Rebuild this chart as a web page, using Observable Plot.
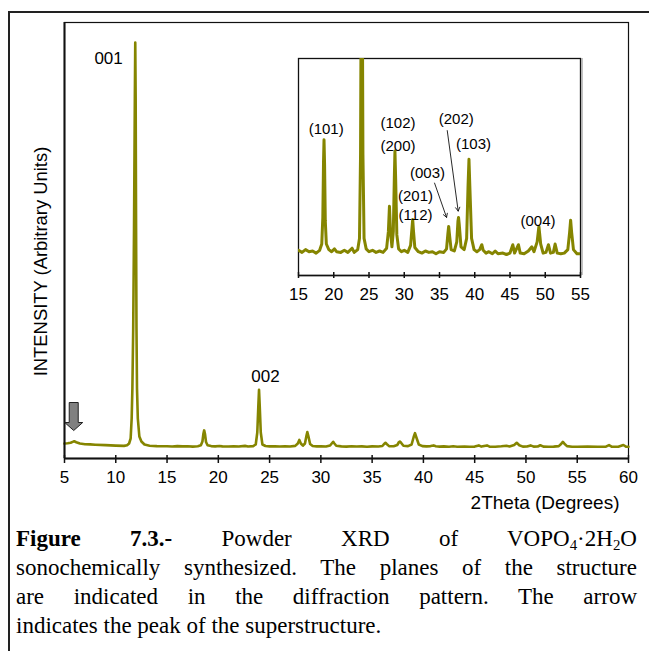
<!DOCTYPE html>
<html><head><meta charset="utf-8">
<script src="https://cdn.jsdelivr.net/npm/d3@7"></script>
<script src="https://cdn.jsdelivr.net/npm/@observablehq/plot@0.6"></script>
<style>
html,body{margin:0;padding:0;background:#fff;width:649px;height:651px;overflow:hidden;}
#outer{position:absolute;left:8px;top:11px;width:800px;height:800px;border-top:2px solid #222;border-left:2px solid #222;}
#main{position:absolute;left:0;top:0;}
#inset{position:absolute;left:278px;top:48px;}
#caption{position:absolute;left:16px;top:524px;width:621px;font-family:"Liberation Serif","Times New Roman",serif;font-size:23px;line-height:29px;color:#000;}
#caption div{height:29px;}
.jl{text-align:justify;text-align-last:justify;}
sub{font-size:0.65em;vertical-align:-0.25em;line-height:0;}
</style>
</head><body>
<div id="outer"></div>
<div id="main"></div>
<div id="inset"></div>
<div id="caption">
<div class="jl"><b>Figure 7.3.-</b> Powder XRD of VOPO<sub>4</sub>·2H<sub>2</sub>O</div>
<div class="jl">sonochemically synthesized. The planes of the structure</div>
<div class="jl">are indicated in the diffraction pattern. The arrow</div>
<div>indicates the peak of the superstructure.</div>
</div>
<script>
// XRD pattern: [2theta (deg), intensity (arb. counts)]
const xrdPattern = [
  [5.0,150],[5.3,153],[5.6,157],[5.8,166],[5.95,172],[6.15,163],[6.5,150],[7.0,143],[7.5,141],[8.0,138],
  [9.0,134],[10.0,129],[10.8,126],[11.1,132],[11.3,150],[11.45,200],[11.55,400],[11.62,700],[11.7,1300],
  [11.78,2300],[11.86,3600],[11.9,4160],[11.94,3600],[11.98,2300],[12.02,1300],[12.07,700],[12.15,400],
  [12.3,220],[12.5,170],[12.8,140],[13.3,128],[14.0,124],
  [15.0,123],[15.5,120],[16.0,124],[16.5,121],[17.0,122],[17.5,119],[18.0,123],[18.3,132],[18.45,170],
  [18.55,250],[18.62,281],[18.7,245],[18.8,165],[18.95,132],[19.3,124],[19.7,121],[20.1,125],[20.4,121],
  [21.0,120],[21.5,123],[22.0,120],[22.6,126],[22.9,120],[23.4,124],[23.65,140],[23.8,260],[23.9,520],
  [23.97,688],[24.04,520],[24.14,260],[24.3,140],[24.6,125],[25.0,121],[25.5,123],[26.0,120],[26.5,122],
  [27.0,120],[27.5,126],[27.75,150],[27.9,186],[28.05,150],[28.25,128],[28.45,150],[28.6,230],[28.68,265],
  [28.78,225],[28.95,145],[29.2,125],[29.6,121],[30.0,123],[30.5,120],[30.9,130],[31.1,155],[31.2,167],
  [31.3,152],[31.5,127],[32.0,121],[32.5,119],[33.0,122],[33.5,120],[34.0,121],[34.5,118],[35.0,121],
  [35.6,120],[36.0,125],[36.2,148],[36.3,157],[36.42,145],[36.65,124],[37.1,122],[37.45,135],[37.62,165],
  [37.7,170],[37.8,160],[38.05,128],[38.5,124],[38.85,140],[39.05,215],[39.18,253],[39.3,215],[39.55,140],
  [39.9,124],[40.3,121],[40.7,124],[41.0,131],[41.2,123],[41.6,119],[42.0,121],[42.5,118],[42.9,122],
  [43.3,118],[44.0,119],[44.5,117],[45.0,119],[45.4,131],[45.65,119],[46.2,131],[46.45,119],[47.0,118],
  [47.6,122],[48.1,128],[48.4,121],[48.85,135],[49.1,157],[49.35,132],[49.7,119],[50.1,120],[50.45,131],
  [50.75,119],[51.15,120],[51.4,132],[51.7,119],[52.2,118],[52.7,119],[53.2,124],[53.45,148],[53.6,166],
  [53.75,148],[54.0,124],[54.5,118],[55.0,118],[56.0,119],[57.0,118],[57.8,119],[58.1,134],[58.35,119],
  [59.0,118],[59.5,135],[59.75,119],[60.0,118]
];
const mainTicks = [5,10,15,20,25,30,35,40,45,50,55,60];
const insetTicks = [15,20,25,30,35,40,45,50,55];
const mainLabels = [
  {text:"001", x:9.3, y:4000},
  {text:"002", x:24.6, y:820}
];
const superArrow = [{x:5.9, y:420}];
const insetLabels = [
  {text:"(101)", x:18.93, y:296},
  {text:"(102)", x:29.11, y:304},
  {text:"(200)", x:29.11, y:272},
  {text:"(202)", x:37.38, y:311},
  {text:"(103)", x:39.82, y:274},
  {text:"(003)", x:33.3, y:233},
  {text:"(201)", x:31.6, y:201},
  {text:"(112)", x:31.6, y:173},
  {text:"(004)", x:48.97, y:165}
];
const insetArrows = [
  {x1:34.3, y1:219, x2:36.0, y2:170},
  {x1:36.1, y1:294, x2:37.65, y2:179}
];
const xTitle = "2Theta (Degrees)";
const yTitle = "INTENSITY (Arbitrary Units)";

const olive = "#858500";
const ink = "#111";
const font = "'Liberation Sans', Arial, sans-serif";
const blockArrow = {draw(ctx){
  ctx.moveTo(-4.5,-14); ctx.lineTo(4.5,-14); ctx.lineTo(4.5,6); ctx.lineTo(9,6);
  ctx.lineTo(0,14); ctx.lineTo(-9,6); ctx.lineTo(-4.5,6); ctx.closePath();
}};

const main = Plot.plot({
  width: 649, height: 520,
  marginLeft: 64, marginRight: 21, marginTop: 22, marginBottom: 62,
  style: {background: "none", fontFamily: font, fontSize: "17px", overflow: "visible", color: "#000"},
  x: {domain: [5, 60]},
  y: {domain: [0, 4360], axis: null},
  marks: [
    Plot.frame({stroke: ink, strokeWidth: 1.2}),
    Plot.line(xrdPattern, {x: d => d[0], y: d => d[1], stroke: olive, strokeWidth: 2.6}),
    Plot.ruleX(mainTicks, {x: d => d, stroke: ink, strokeWidth: 1.5, insetTop: 433, insetBottom: -5}),
    Plot.ruleY([0], {stroke: ink, strokeWidth: 2}),
    Plot.ruleX([5], {stroke: ink, strokeWidth: 2}),
    Plot.axisX({ticks: mainTicks, tickSize: 0, tickPadding: 12, tickFormat: d => String(d), label: null}),
    Plot.text(mainLabels, {x: "x", y: "y", text: "text", fontSize: 17, fill: "#000"}),
    Plot.dot(superArrow, {x: "x", y: "y", symbol: blockArrow, fill: "#808080", stroke: "#222", strokeWidth: 1}),
    Plot.text([xTitle], {text: d => d, frameAnchor: "bottom-right", textAnchor: "end", dx: -9, dy: 50, fontSize: 19, fill: "#000"}),
    Plot.text([yTitle], {text: d => d, frameAnchor: "left", textAnchor: "middle", rotate: -90, dx: -23, dy: 21, fontSize: 18.4, fill: "#000"})
  ]
});
document.getElementById("main").appendChild(main);

const inset = Plot.plot({
  width: 322, height: 267,
  marginLeft: 20, marginRight: 20, marginTop: 10, marginBottom: 40,
  style: {background: "none", fontFamily: font, fontSize: "17px", overflow: "visible", color: "#000"},
  x: {domain: [15, 55]},
  y: {domain: [87, 397], axis: null},
  marks: [
    Plot.frame({fill: "white", stroke: ink, strokeWidth: 1.3}),
    Plot.ruleX([55], {stroke: "#999", strokeWidth: 1.2, dx: 1.5}),
    Plot.line(xrdPattern, {x: d => d[0], y: d => d[1], stroke: olive, strokeWidth: 3, clip: true}),
    Plot.ruleX(insetTicks, {x: d => d, stroke: ink, strokeWidth: 1.5, insetTop: 214, insetBottom: -3}),
    Plot.ruleY([87], {stroke: ink, strokeWidth: 1.5}),
    Plot.axisX({ticks: insetTicks, tickSize: 0, tickPadding: 12, tickFormat: d => String(d), label: null}),
    Plot.text(insetLabels, {x: "x", y: "y", text: "text", fontSize: 15, fill: "#000"}),
    Plot.arrow(insetArrows, {x1: "x1", y1: "y1", x2: "x2", y2: "y2", stroke: ink, strokeWidth: 0.9, headLength: 7})
  ]
});
document.getElementById("inset").appendChild(inset);
</script>
</body></html>
